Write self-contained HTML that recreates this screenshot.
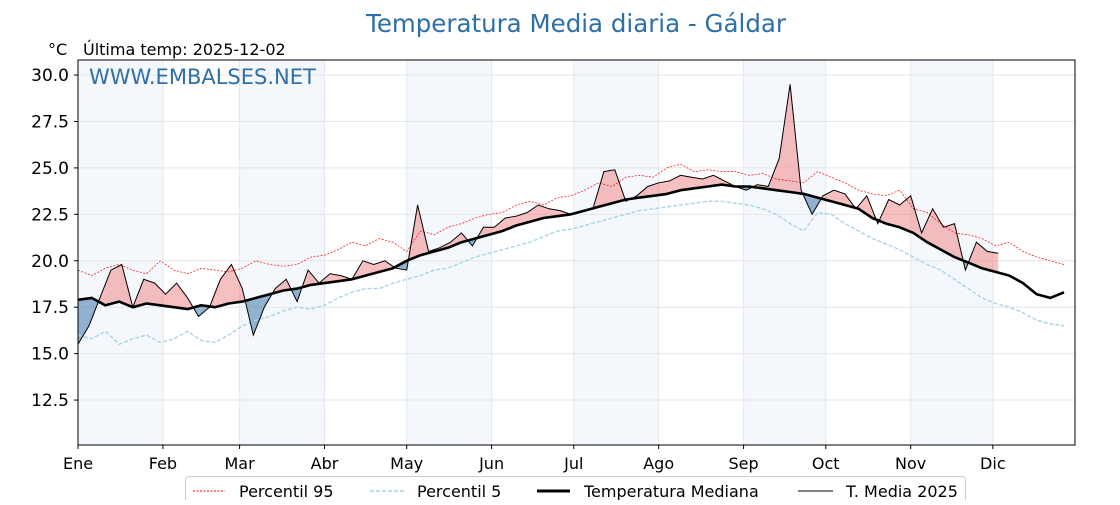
<!DOCTYPE html>
<html><head><meta charset="utf-8"><style>
body{margin:0;background:#fff;width:1120px;height:500px;overflow:hidden}
svg text{font-family:"DejaVu Sans","Liberation Sans",sans-serif}
</style></head><body>
<svg id="chart" width="1120" height="500" xmlns="http://www.w3.org/2000/svg">
<text x="576" y="32" text-anchor="middle" font-size="24.5" fill="#2e6fa7">Temperatura Media diaria - Gáldar</text>
<text x="48" y="55" font-size="16" fill="#000">°C</text>
<text x="83" y="55" font-size="16" fill="#000">Última temp: 2025-12-02</text>
<g id="bg"></g><g id="grid"></g><g id="fills"></g><g id="lines"></g>
<rect x="78" y="60" width="997" height="385" fill="none" stroke="#000" stroke-width="1"/>
<text x="89" y="84" font-size="21" fill="#2e6fa7">WWW.EMBALSES.NET</text>
<g id="axes"></g>
<g>
<rect x="185.5" y="476.5" width="780" height="30" rx="3" fill="#fff" stroke="#ccc"/>
<line x1="193" y1="491" x2="225" y2="491" stroke="red" stroke-width="1" stroke-dasharray="2,1.5"/>
<text x="239" y="497" font-size="16">Percentil 95</text>
<line x1="370" y1="491" x2="405" y2="491" stroke="#a8d4e6" stroke-width="1.5" stroke-dasharray="4,2"/>
<text x="417" y="497" font-size="16">Percentil 5</text>
<line x1="537" y1="491" x2="570" y2="491" stroke="#000" stroke-width="3"/>
<text x="584" y="497" font-size="16">Temperatura Mediana</text>
<line x1="798" y1="491" x2="833" y2="491" stroke="#000" stroke-width="1"/>
<text x="846" y="497" font-size="16">T. Media 2025</text>
</g>
</svg>
<script>
const monthLabels=["Ene","Feb","Mar","Abr","May","Jun","Jul","Ago","Sep","Oct","Nov","Dic"];
const monthStarts=[0,31,59,90,120,151,181,212,243,273,304,334];
const yTicks=[12.5,15.0,17.5,20.0,22.5,25.0,27.5,30.0];
const statDays=Array.from({length:73},(_,i)=>i*5);
const median=[17.9,18.0,17.6,17.8,17.5,17.7, 17.6,17.5,17.4,17.6,17.5,17.7, 17.8,18.0,18.2,18.4,18.5,18.7, 18.8,18.9,19.0,19.2,19.4,19.6, 20.0,20.3,20.5,20.7,21.0,21.2, 21.4,21.6,21.9,22.1,22.3,22.4, 22.5,22.7,22.9,23.1,23.3,23.4, 23.5,23.6,23.8,23.9,24.0,24.1, 24.0,24.0,23.9,23.8,23.7,23.6, 23.4,23.2,23.0,22.8,22.3,22.0, 21.8,21.5,21.0,20.6,20.2,19.9, 19.6,19.4,19.2,18.8,18.2,18.0,18.3];
const p95=[19.5,19.2,19.6,19.8,19.5,19.3, 20.0,19.5,19.3,19.6,19.5,19.4, 19.6,20.0,19.8,19.7,19.8,20.2, 20.3,20.6,21.0,20.8,21.2,21.0, 20.5,21.6,21.4,21.8,22.0,22.3, 22.5,22.6,23.0,23.2,23.0,23.4, 23.5,23.8,24.2,24.0,24.5,24.6, 24.5,25.0,25.2,24.8,24.9,24.8, 24.8,24.6,24.7,24.4,24.3,24.2, 24.8,24.5,24.2,23.8,23.6,23.5, 23.8,22.8,22.6,22.0,21.5,21.4, 21.2,20.8,21.0,20.5,20.2,20.0,19.8];
const p5=[16.0,15.8,16.2,15.5,15.8,16.0, 15.6,15.8,16.2,15.7,15.6,16.0, 16.5,16.8,17.0,17.3,17.5,17.4, 17.6,18.0,18.3,18.5,18.5,18.8, 19.0,19.2,19.5,19.6,19.9,20.2, 20.4,20.6,20.8,21.0,21.3,21.6, 21.7,21.9,22.1,22.3,22.5,22.7, 22.8,22.9,23.0,23.1,23.2,23.2, 23.1,23.0,22.8,22.5,22.0,21.6, 22.6,22.5,22.0,21.6,21.2,20.9, 20.6,20.2,19.8,19.5,19.0,18.5, 18.0,17.7,17.5,17.2,16.8,16.6,16.5];
const days2025=Array.from({length:85},(_,i)=>i*4);
const temp2025=[15.5,16.5,18.0,19.5,19.8,17.5,19.0,18.8,18.2,18.8,18.0,17.0,17.5,19.0,19.8,18.5,16.0,17.5,18.5,19.0,17.8,19.5,18.8,19.3,19.2,19.0,20.0,19.8,20.0,19.6,19.5,23.0,20.5,20.7,21.0,21.5,20.8,21.8,21.8,22.3,22.4,22.6,23.0,22.8,22.7,22.5,22.7,22.8,24.8,24.9,23.2,23.5,24.0,24.2,24.3,24.6,24.5,24.4,24.6,24.3,24.0,23.8,24.1,24.0,25.5,29.5,23.8,22.5,23.5,23.8,23.6,22.8,23.5,22.0,23.3,23.0,23.5,21.5,22.8,21.8,22.0,19.5,21.0,20.5,20.4];

const X0=78,X1=1075,Y0=60,Y1=445;
const dMax=364, vMin=10.08, vMax=30.81;
const xs=d=>X0+(X1-X0)*d/dMax;
const ys=v=>Y1-(Y1-Y0)*(v-vMin)/(vMax-vMin);
const NS="http://www.w3.org/2000/svg";
function mk(tag,attrs,parent){const e=document.createElementNS(NS,tag);for(const k in attrs)e.setAttribute(k,attrs[k]);document.getElementById(parent).appendChild(e);return e;}
function pts(dd,vv){return dd.map((d,i)=>xs(d).toFixed(1)+","+ys(vv[i]).toFixed(1));}
function interp(dd,vv,d){for(let i=0;i<dd.length-1;i++){if(d<=dd[i+1]){const t=(d-dd[i])/(dd[i+1]-dd[i]);return vv[i]+t*(vv[i+1]-vv[i]);}}return vv[vv.length-1];}

monthStarts.forEach((m,i)=>{if(i%2===0){const end=i+1<12?monthStarts[i+1]:dMax;
const r=mk('rect',{x:xs(m),y:Y0,width:xs(end)-xs(m),height:Y1-Y0,fill:'#f4f8fc'},'bg');

}});
yTicks.forEach(v=>{const l=mk('line',{x1:X0,x2:X1,y1:ys(v),y2:ys(v),stroke:'#e6e6e6','stroke-width':1},'grid');


mk('line',{x1:X0-4,x2:X0,y1:ys(v),y2:ys(v),stroke:'#000'},'axes');
const tx=mk('text',{x:X0-9,y:ys(v)+6,'text-anchor':'end','font-size':17},'axes');tx.textContent=v.toFixed(1);

});
monthStarts.forEach((m,i)=>{const l=mk('line',{x1:xs(m),x2:xs(m),y1:Y0,y2:Y1,stroke:'#e3e8ee','stroke-width':1},'grid');


mk('line',{x1:xs(m),x2:xs(m),y1:Y1,y2:Y1+4,stroke:'#000'},'axes');
const tx=mk('text',{x:xs(m),y:Y1+24,'text-anchor':'middle','font-size':16},'axes');tx.textContent=monthLabels[i];

});

const medAt=days2025.map(d=>interp(statDays,median,d));
const medLine=pts(days2025,medAt);
const tLine=pts(days2025,temp2025);
const defs=mk('defs',{},'fills');
const last=days2025[days2025.length-1];
const cpA=mk('clipPath',{id:'above'},'fills');defs.appendChild(cpA);
const pa=document.createElementNS(NS,'polygon');pa.setAttribute('points',medLine.join(' ')+` ${xs(last)},${Y0} ${xs(0)},${Y0}`);cpA.appendChild(pa);
const cpB=mk('clipPath',{id:'below'},'fills');defs.appendChild(cpB);
const pb=document.createElementNS(NS,'polygon');pb.setAttribute('points',medLine.join(' ')+` ${xs(last)},${Y1} ${xs(0)},${Y1}`);cpB.appendChild(pb);
const band=tLine.join(' ')+' '+medLine.slice().reverse().join(' ');
const fr=mk('polygon',{points:band,fill:'#f08080','fill-opacity':0.5,'clip-path':'url(#above)'},'fills');


const fb=mk('polygon',{points:band,fill:'#2b6aa3','fill-opacity':0.5,'clip-path':'url(#below)'},'fills');



const l95=mk('polyline',{points:pts(statDays,p95).join(' '),fill:'none',stroke:'red','stroke-width':0.7,'stroke-dasharray':'2,1.5'},'lines');


const l5=mk('polyline',{points:pts(statDays,p5).join(' '),fill:'none',stroke:'#a8d4e6','stroke-width':1.4,'stroke-dasharray':'4,2'},'lines');


const lm=mk('polyline',{points:pts(statDays,median).join(' '),fill:'none',stroke:'#000','stroke-width':2.6,'stroke-linejoin':'round'},'lines');


const lt=mk('polyline',{points:tLine.join(' '),fill:'none',stroke:'#000','stroke-width':1},'lines');


</script>
</body></html>
